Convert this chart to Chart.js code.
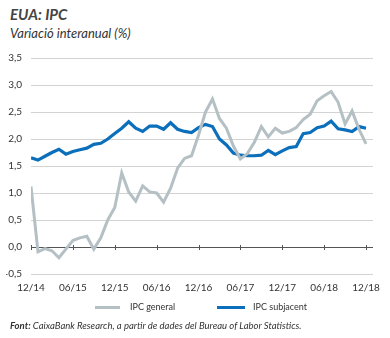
<!DOCTYPE html>
<html>
<head>
<meta charset="utf-8">
<script src="https://cdn.jsdelivr.net/npm/chart.js@4.4.1/dist/chart.umd.min.js"></script>
<style>
    body { margin: 0; width: 390px; height: 338px; overflow: hidden; background: #fff; font-family: Lato, 'Liberation Sans', sans-serif; color: #333; }
    #wrap { position: relative; width: 390px; height: 338px; }
    #chart { position: absolute; left: 0; top: 0; }
    .titulo { position: absolute; left: 10px; top: 5px; font-size: 15px; font-weight: bold; font-style: italic; color: #444; }
    .subtitulo { position: absolute; left: 10px; top: 25px; font-size: 13px; font-style: italic; color: #333; }
    .leyenda { position: absolute; top: 301px; left: 0; height: 12px; font-size: 9px; line-height: 12px; }
    .leyenda span { position: absolute; white-space: nowrap; }
    .leyenda i { position: absolute; top: 5px; height: 3px; }
    .fuente { position: absolute; left: 10px; top: 320px; font-size: 9.5px; font-style: italic; color: #333; white-space: nowrap; }
    .fuente b { font-weight: bold; }
</style>
</head>
<body>
<div id="wrap">
    <div class="titulo">EUA: IPC</div>
    <div class="subtitulo">Variació interanual (%)</div>
    <canvas id="chart" width="390" height="338"></canvas>
    <div class="leyenda" id="leyenda"></div>
    <div class="fuente"><b>Font:</b> CaixaBank Research, a partir de dades del Bureau of Labor Statistics.</div>
</div>
<script>
// mesos: 12/14 ... 12/18
let meses = ['12/14',
    '01/15','02/15','03/15','04/15','05/15','06/15','07/15','08/15','09/15','10/15','11/15','12/15',
    '01/16','02/16','03/16','04/16','05/16','06/16','07/16','08/16','09/16','10/16','11/16','12/16',
    '01/17','02/17','03/17','04/17','05/17','06/17','07/17','08/17','09/17','10/17','11/17','12/17',
    '01/18','02/18','03/18','04/18','05/18','06/18','07/18','08/18','09/18','10/18','11/18','12/18'];

let ipcGeneral = [1.12,
    -0.09, -0.03, -0.07, -0.20, -0.04, 0.12, 0.17, 0.20, -0.04, 0.17, 0.50, 0.73,
    1.37, 1.02, 0.85, 1.13, 1.02, 1.00, 0.83, 1.09, 1.46, 1.64, 1.69, 2.07,
    2.50, 2.74, 2.38, 2.20, 1.87, 1.63, 1.73, 1.94, 2.23, 2.04, 2.20, 2.11,
    2.14, 2.21, 2.36, 2.46, 2.71, 2.80, 2.88, 2.68, 2.28, 2.52, 2.18, 1.91];

let ipcSubjacent = [1.65,
    1.61, 1.68, 1.75, 1.81, 1.72, 1.77, 1.80, 1.83, 1.90, 1.92, 2.00, 2.10,
    2.20, 2.32, 2.20, 2.14, 2.24, 2.24, 2.18, 2.30, 2.18, 2.14, 2.12, 2.21,
    2.27, 2.23, 2.00, 1.89, 1.74, 1.70, 1.69, 1.69, 1.70, 1.79, 1.71, 1.78,
    1.84, 1.86, 2.10, 2.12, 2.21, 2.24, 2.33, 2.19, 2.17, 2.14, 2.23, 2.20];

let ticksX = ['12/14','06/15','12/15','06/16','12/16','06/17','12/17','06/18','12/18'];
let ticksY = [-0.5, 0, 0.5, 1, 1.5, 2, 2.5, 3, 3.5];

const colorGeneral = '#b5c0c5';
const colorSubjacent = '#0b6fbb';

let toPoints = (serie) => serie.map((v, i) => ({ x: i, y: v }));

// marques de l'eix a la linia del zero
const ticksCero = {
    id: 'ticksCero',
    afterDatasetsDraw(chart) {
        let ctx = chart.ctx;
        let x = chart.scales.x;
        let y0 = Math.round(chart.scales.y.getPixelForValue(0));
        ctx.save();
        ctx.strokeStyle = '#555';
        ctx.lineWidth = 1;
        ticksX.forEach(t => {
            let px = Math.round(x.getPixelForValue(meses.indexOf(t))) + 0.5;
            ctx.beginPath();
            ctx.moveTo(px, y0 - 2);
            ctx.lineTo(px, y0 + 3);
            ctx.stroke();
        });
        ctx.restore();
    }
};

let config = {
    type: 'line',
    data: {
        datasets: [{
            label: 'IPC general',
            data: toPoints(ipcGeneral),
            borderColor: colorGeneral,
            backgroundColor: colorGeneral,
            borderWidth: 3,
            pointRadius: 0,
            tension: 0
        }, {
            label: 'IPC subjacent',
            data: toPoints(ipcSubjacent),
            borderColor: colorSubjacent,
            backgroundColor: colorSubjacent,
            borderWidth: 3.2,
            pointRadius: 0,
            tension: 0
        }]
    },
    options: {
        responsive: false,
        animation: false,
        layout: { padding: { left: 6, right: 17, top: 58, bottom: 42 } },
        plugins: {
            legend: { display: false },
            tooltip: { enabled: false }
        },
        scales: {
            x: {
                type: 'linear',
                min: 0,
                max: 49,
                grid: { display: false, drawTicks: false },
                border: { display: false },
                afterBuildTicks: (s) => { s.ticks = ticksX.map(t => ({ value: meses.indexOf(t) })); },
                afterFit: (s) => { s.height = 22; },
                ticks: {
                    color: '#333',
                    padding: 8,
                    maxRotation: 0,
                    font: { family: 'Lato', size: 10 },
                    callback: (v) => meses[v]
                }
            },
            y: {
                min: -0.5,
                max: 3.5,
                afterBuildTicks: (s) => { s.ticks = ticksY.map(v => ({ value: v })); },
                afterFit: (s) => { s.width = 25; },
                grid: {
                    color: (c) => c.tick && c.tick.value === 0 ? '#555' : '#d3d3d3',
                    drawTicks: false
                },
                border: { display: false },
                ticks: {
                    color: '#333',
                    padding: 9,
                    font: { family: 'Lato', size: 10 },
                    callback: (v) => v.toFixed(1).replace('.', ',')
                }
            }
        }
    },
    plugins: [ticksCero]
};

let chartIPC = new Chart(document.getElementById('chart'), config);

// llegenda
let posLeyenda = [{ linea: 95, ancho: 25, texto: 130 }, { linea: 217, ancho: 28, texto: 253 }];
let t = '';
chartIPC.data.datasets.forEach((d, i) => {
    let p = posLeyenda[i];
    t += `<i style="left:${p.linea}px;width:${p.ancho}px;background:${d.borderColor}"></i>
          <span style="left:${p.texto}px">${d.label}</span>`;
});
document.querySelector('#leyenda').innerHTML = t;
</script>
</body>
</html>
